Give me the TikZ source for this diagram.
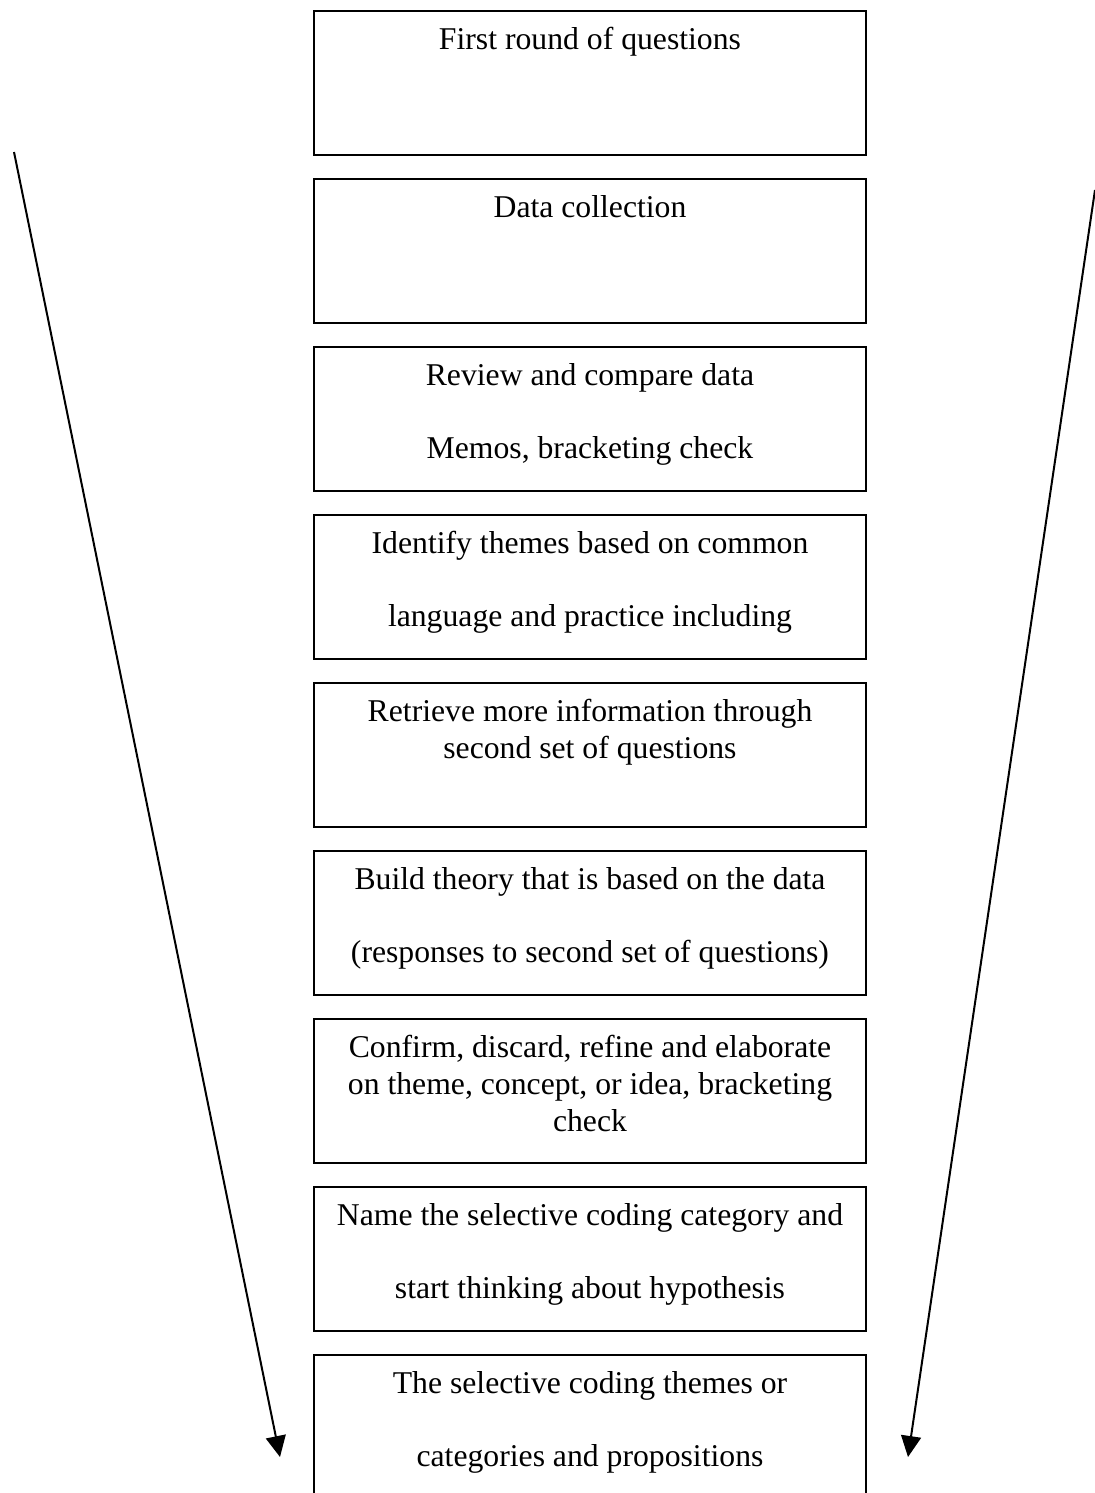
\documentclass[tikz,border=0pt]{standalone}
\usepackage{fontspec}
\setmainfont{Liberation Serif}
\usetikzlibrary{arrows.meta}
\begin{document}
\begin{tikzpicture}[x=0.5pt,y=-0.5pt,
  stagebox/.style={draw,line width=1pt,minimum width=276pt,minimum height=72pt,inner sep=0pt,anchor=north},
  stagetext/.style={anchor=north,inner sep=0pt,align=center,font=\fontsize{15.85pt}{18.5pt}\selectfont},
  funnel/.style={line width=1pt,-{Triangle[length=10.5pt,width=10pt]}}]
\useasboundingbox (0,0) rectangle (1094,1493);
\fill[white] (0,0) rectangle (1094,1493);
% boxes
\node[stagebox] (b1) at (590,10) {};
\node[stagebox] (b2) at (590,178) {};
\node[stagebox] (b3) at (590,346) {};
\node[stagebox] (b4) at (590,514) {};
\node[stagebox] (b5) at (590,682) {};
\node[stagebox] (b6) at (590,850) {};
\node[stagebox] (b7) at (590,1018) {};
\node[stagebox] (b8) at (590,1186) {};
\node[stagebox] (b9) at (590,1354) {};
% texts
\node[stagetext] (t1) at (590,23) {\strut First round of questions};
\node[stagetext] (t2) at (590,191) {\strut Data collection};
\node[stagetext] (t3) at (590,359) {\strut Review and compare data\\[18pt]Memos, bracketing check};
\node[stagetext] (t4) at (590,527) {\strut Identify themes based on common\\[18pt]language and practice including};
\node[stagetext] (t5) at (590,695) {\strut Retrieve more information through\\second set of questions};
\node[stagetext] (t6) at (590,863) {\strut Build theory that is based on the data\\[18pt](responses to second set of questions)};
\node[stagetext] (t7) at (590,1031) {\strut Confirm, discard, refine and elaborate\\on theme, concept, or idea, bracketing\\check};
\node[stagetext] (t8) at (590,1199) {\strut Name the selective coding category and\\[18pt]start thinking about hypothesis};
\node[stagetext] (t9) at (590,1367) {\strut The selective coding themes or\\[18pt]categories and propositions};
% funnel arrows
\coordinate (L0) at (14,152);
\coordinate (L1) at (280,1457);
\coordinate (R0) at (1095,190);
\coordinate (R1) at (908,1457);
\draw[funnel] (L0) -- (L1);
\draw[funnel] (R0) -- (R1);
\end{tikzpicture}
\end{document}
